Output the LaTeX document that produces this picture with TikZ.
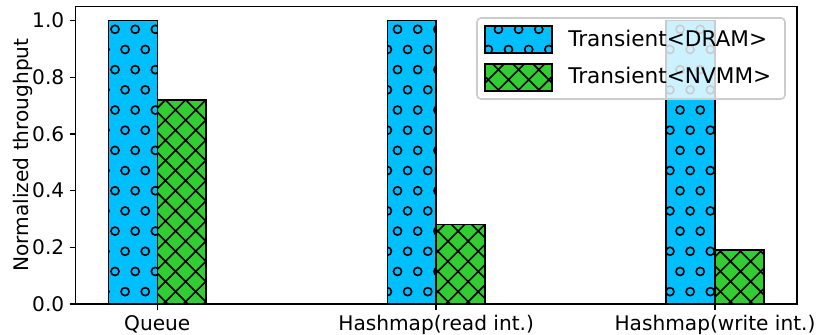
\documentclass[tikz,border=0pt]{standalone}
\usepackage{fontspec}
\setmainfont{DejaVu Sans}
\usepackage{tikz}
\definecolor{dramblue}{HTML}{00BFFF}
\definecolor{nvmmgreen}{HTML}{32CD32}
\definecolor{legendedge}{HTML}{CCCCCC}
\newcommand{\ticksize}{\fontsize{15.1pt}{18pt}\selectfont}
\newcommand{\legendsize}{\fontsize{16.2pt}{19pt}\selectfont}
% ring hatch inside the box (#1,#2)-(#3,#4), lattice fixed on the page
\newcommand{\ringhatch}[4]{%
  \begin{scope}
    \clip (#1,#2) rectangle (#3,#4);
    \pgfmathtruncatemacro{\jlo}{floor((#2-305.7)/20.18)-1}
    \pgfmathtruncatemacro{\jhi}{ceil((#4-305.7)/20.18)+1}
    \foreach \j in {\jlo,...,\jhi}{
      \pgfmathtruncatemacro{\ilo}{floor((#1-115-10.09*\j)/20.18)-1}
      \pgfmathtruncatemacro{\ihi}{ceil((#3-115-10.09*\j)/20.18)+1}
      \foreach \i in {\ilo,...,\ihi}
        \draw[hatchline] ({115+10.09*\j+20.18*\i},{305.7+20.18*\j}) circle (4.04);
    }
  \end{scope}}
% diagonal cross hatch inside the box (#1,#2)-(#3,#4)
\newcommand{\diamondhatch}[4]{%
  \begin{scope}
    \clip (#1,#2) rectangle (#3,#4);
    \pgfmathtruncatemacro{\klo}{floor((#2-#3-190.7)/20.18)-1}
    \pgfmathtruncatemacro{\khi}{ceil((#4-#1-190.7)/20.18)+1}
    \foreach \k in {\klo,...,\khi}
      \draw[hatchline] ({#1-5},{#1-5+190.7+20.18*\k}) -- ({#3+5},{#3+5+190.7+20.18*\k});
    \pgfmathtruncatemacro{\klo}{floor((#1+#2-420.7)/20.18)-1}
    \pgfmathtruncatemacro{\khi}{ceil((#3+#4-420.7)/20.18)+1}
    \foreach \k in {\klo,...,\khi}
      \draw[hatchline] ({#1-5},{420.7+20.18*\k-#1+5}) -- ({#3+5},{420.7+20.18*\k-#3-5});
  \end{scope}}

\begin{document}
\begin{tikzpicture}[
  x=0.75pt, y=0.75pt,
  spine/.style={draw=black, line width=1pt},
  bar/.style={draw=black, line width=1.1pt},
  hatchline/.style={draw=black, line width=1.2pt},
  tickmark/.style={draw=black, line width=1pt},
  ticklabel/.style={font=\ticksize, inner sep=0pt, text=black},
  legendframe/.style={draw=legendedge, fill=white, fill opacity=0.8,
    rounded corners=3pt, line width=1.2pt},
  legendtext/.style={font=\legendsize, inner sep=0pt, anchor=base west},
]
\useasboundingbox (0,0) rectangle (818,335);

% Bars — DRAM always 1.0, NVMM normalised to it
\foreach \grp/\cx/\val/\lab in {queue/157.3/0.72/Queue,
    read/436.15/0.28/Hashmap(read int.),
    write/715/0.19/Hashmap(write int.)} {
  \pgfmathsetmacro{\xl}{\cx-48.8}
  \pgfmathsetmacro{\xr}{\cx+48.8}
  \pgfmathsetmacro{\ytop}{31+283.5*\val}
  \fill[dramblue] (\xl,31) rectangle (\cx,314.5);
  \ringhatch{\xl}{31}{\cx}{314.5}
  \draw[bar] (\xl,31) rectangle (\cx,314.5);
  \fill[nvmmgreen] (\cx,31) rectangle (\xr,\ytop);
  \diamondhatch{\cx}{31}{\xr}{\ytop}
  \draw[bar] (\cx,31) rectangle (\xr,\ytop);
  % x tick and its label
  \draw[tickmark] (\cx,31) -- (\cx,25);
  \node[ticklabel, anchor=base] (xl-\grp) at (\cx,4.5) {\lab};
}

% Axes frame
\draw[spine] (75.5,31) rectangle (797,328.5);

% y ticks
\foreach \n/\v in {0/0.0, 1/0.2, 2/0.4, 3/0.6, 4/0.8, 5/1.0} {
  \pgfmathsetmacro{\yy}{31+283.5*\v}
  \draw[tickmark] (69.5,\yy) -- (75.5,\yy);
  \node[ticklabel, anchor=east] (yt\n) at (64.5,\yy) {\v};
}
\node[ticklabel, rotate=90, anchor=base] (ylabel) at (28.3,180)
  {Normalized throughput};

% Legend
\draw[legendframe] (477,236) rectangle (785,317);
\fill[dramblue] (485,282) rectangle (552,309);
\ringhatch{485}{282}{552}{309}
\draw[bar] (485,282) rectangle (552,309);
\fill[nvmmgreen] (485,244) rectangle (552,271);
\diamondhatch{485}{244}{552}{271}
\draw[bar] (485,244) rectangle (552,271);
\node[legendtext] (legdram) at (568,288.3) {Transient<DRAM>};
\node[legendtext] (legnvmm) at (568,251) {Transient<NVMM>};

\end{tikzpicture}
\end{document}
